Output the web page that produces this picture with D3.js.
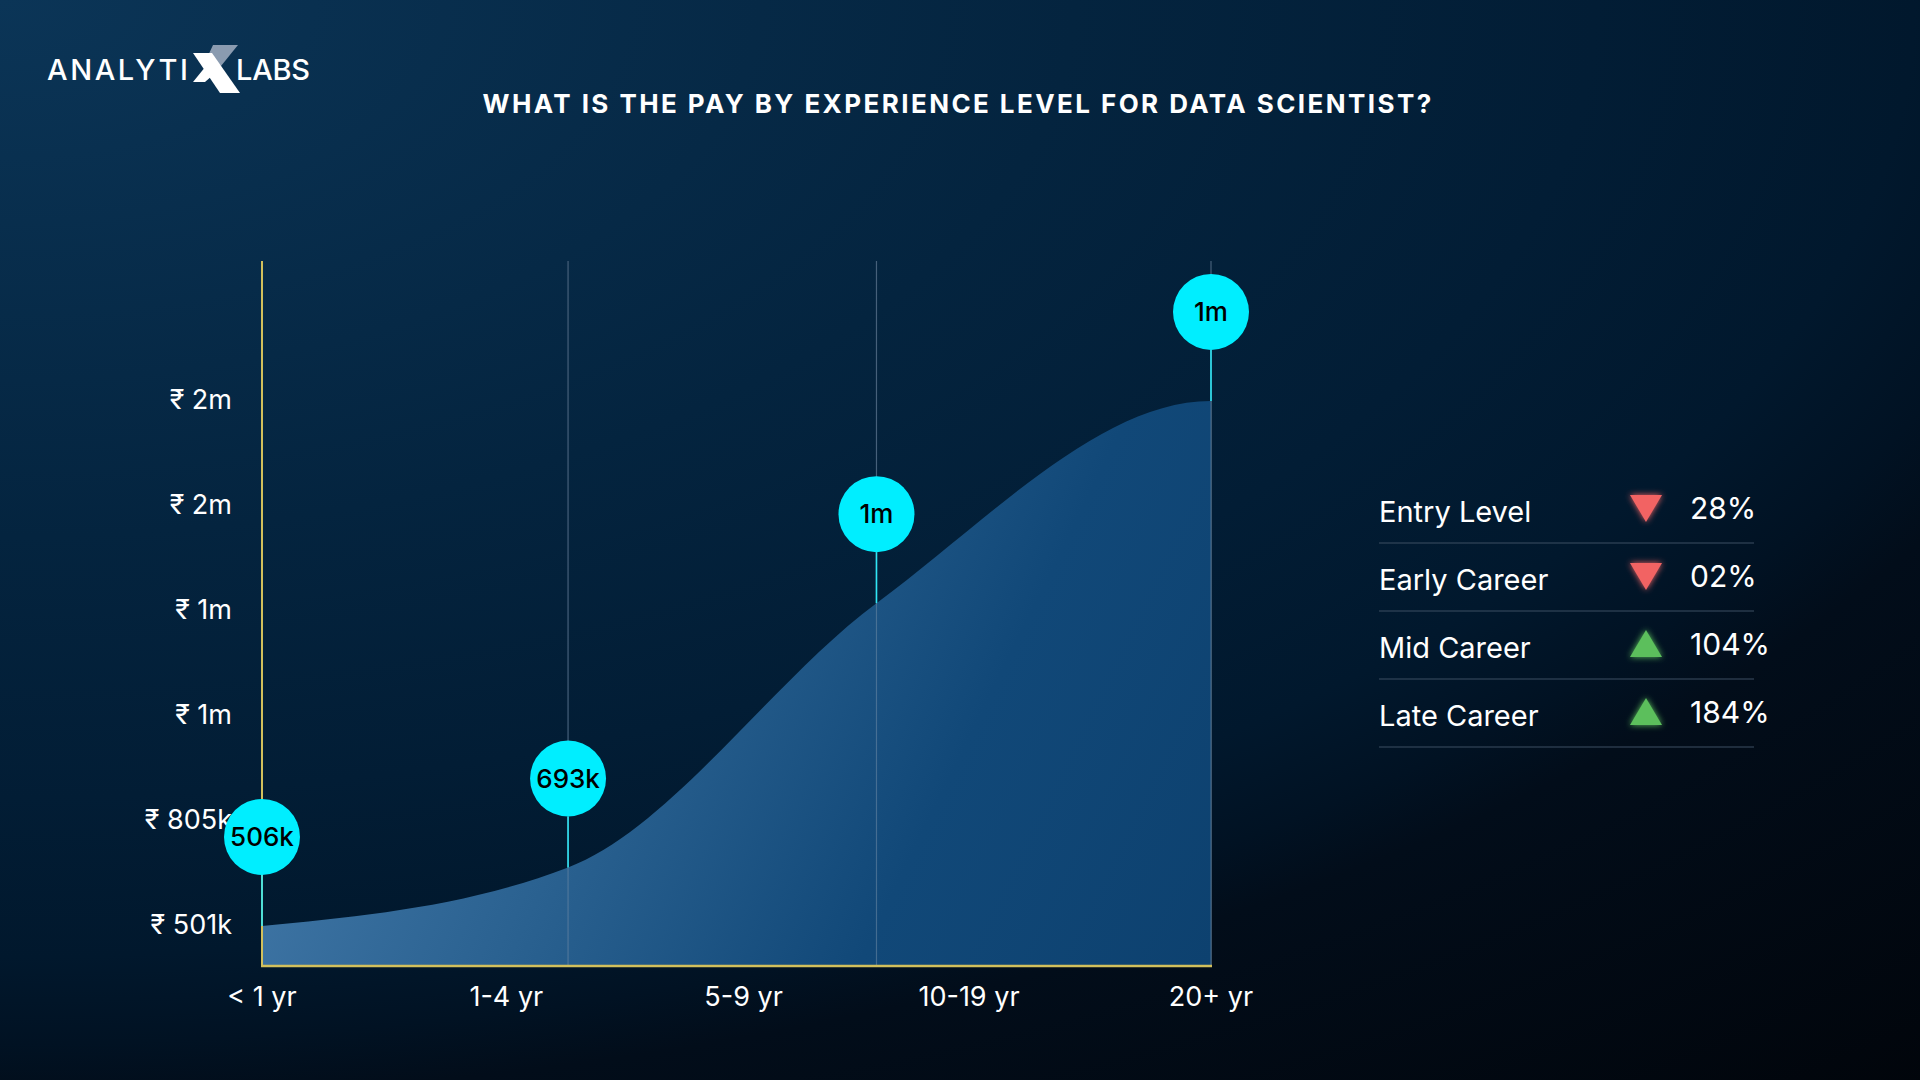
<!DOCTYPE html>
<html>
<head>
<meta charset="utf-8">
<script src="https://cdn.jsdelivr.net/npm/d3@7"></script>
<style>
  html, body { margin: 0; padding: 0; background: #021a30; }
  svg { display: block; }
  text { font-family: Inter, "Open Sans", sans-serif; }
</style>
</head>
<body>
<svg id="chart" width="1920" height="1080"></svg>
<script>
// ---------------- data ----------------
const categories = ["< 1 yr", "1-4 yr", "5-9 yr", "10-19 yr", "20+ yr"];
const categoryPos = [0, 1.03, 2.03, 2.98, 4];
const pointPos = [0, 1.29, 2.59, 4];            // where each plotted point sits on the experience axis
const payValues = [496, 665, 1430, 2015];       // pay in thousands, as plotted
const bubbleLabels = ["506k", "693k", "1m", "1m"];
const yTickValues = [501, 805, 1109, 1413, 1717, 2021];
const yTickLabels = ["₹ 501k", "₹ 805k", "₹ 1m", "₹ 1m", "₹ 2m", "₹ 2m"];
const levels = ["Entry Level", "Early Career", "Mid Career", "Late Career"];
const changes = ["28%", "02%", "104%", "184%"];
const directions = ["down", "down", "up", "up"];
const titleText = "WHAT IS THE PAY BY EXPERIENCE LEVEL FOR DATA SCIENTIST?";

// monotone cubic interpolation that settles flat at the last point
function curveMonotoneFlatEnd(context) {
  return {
    areaStart() { this._line = 0; },
    areaEnd() { this._line = NaN; },
    lineStart() { this._pts = []; },
    point(x, y) { this._pts.push([+x, +y]); },
    lineEnd() {
      const p = this._pts, n = p.length;
      if (n) {
        this._line ? context.lineTo(p[0][0], p[0][1]) : context.moveTo(p[0][0], p[0][1]);
        if (n === 2) context.lineTo(p[1][0], p[1][1]);
        else if (n > 2) {
          const s = [];
          for (let i = 0; i < n - 1; i++) {
            const h = p[i + 1][0] - p[i][0];
            s.push(h ? (p[i + 1][1] - p[i][1]) / h : 0);
          }
          const m = new Array(n).fill(0);
          for (let i = 1; i < n - 1; i++) {
            const h0 = p[i][0] - p[i - 1][0], h1 = p[i + 1][0] - p[i][0];
            const pp = (s[i - 1] * h1 + s[i] * h0) / (h0 + h1);
            m[i] = (Math.sign(s[i - 1]) + Math.sign(s[i])) *
              Math.min(Math.abs(s[i - 1]), Math.abs(s[i]), 0.5 * Math.abs(pp)) || 0;
          }
          m[0] = (3 * s[0] - m[1]) / 2;
          m[n - 1] = 0;
          for (let i = 0; i < n - 1; i++) {
            const dx = (p[i + 1][0] - p[i][0]) / 3;
            context.bezierCurveTo(p[i][0] + dx, p[i][1] + m[i] * dx,
              p[i + 1][0] - dx, p[i + 1][1] - m[i + 1] * dx,
              p[i + 1][0], p[i + 1][1]);
          }
        }
      }
      if (this._line || (this._line !== 0 && n === 1)) context.closePath();
      this._line = 1 - this._line;
    }
  };
}

// ---------------- setup ----------------
const svg = d3.select("#chart");
const defs = svg.append("defs");

const bg = defs.append("radialGradient").attr("id", "bg")
  .attr("gradientUnits", "userSpaceOnUse")
  .attr("cx", 0).attr("cy", 0).attr("r", 2900).attr("fx", 0).attr("fy", 0)
  .attr("gradientTransform", "scale(1,0.5)");
[[0, "#0b3557"], [0.37, "#04243f"], [0.55, "#021d35"], [0.66, "#01182d"],
 [0.72, "#011223"], [0.76, "#020d1a"], [1, "#01050b"]]
  .forEach(([o, c]) => bg.append("stop").attr("offset", o).attr("stop-color", c));

const areaGrad = defs.append("linearGradient").attr("id", "areaGrad")
  .attr("gradientUnits", "userSpaceOnUse")
  .attr("x1", 262).attr("y1", 500).attr("x2", 1211).attr("y2", 966);
areaGrad.append("stop").attr("offset", "0").attr("stop-color", "#4a80b0");
areaGrad.append("stop").attr("offset", "0.4").attr("stop-color", "#2a6190");
areaGrad.append("stop").attr("offset", "0.7").attr("stop-color", "#114878");
areaGrad.append("stop").attr("offset", "1").attr("stop-color", "#0d416f");

const glowR = defs.append("filter").attr("id", "glowR").attr("x", "-60%").attr("y", "-60%").attr("width", "220%").attr("height", "220%");
glowR.append("feGaussianBlur").attr("in", "SourceGraphic").attr("stdDeviation", 3).attr("result", "b");
const mR = glowR.append("feMerge");
mR.append("feMergeNode").attr("in", "b");
mR.append("feMergeNode").attr("in", "SourceGraphic");

svg.append("rect").attr("width", 1920).attr("height", 1080).attr("fill", "url(#bg)");

// ---------------- logo ----------------
const logo = svg.append("g");
logo.append("text").attr("x", 47).attr("y", 80)
  .attr("fill", "#ffffff").attr("font-size", 29).attr("font-weight", 500)
  .attr("textLength", 141).attr("lengthAdjust", "spacing").text("ANALYTI");
logo.append("text").attr("x", 236).attr("y", 80)
  .attr("fill", "#ffffff").attr("font-size", 29).attr("font-weight", 500)
  .attr("textLength", 74).attr("lengthAdjust", "spacing").text("LABS");
// stylised X
logo.append("path").attr("d", "M213,45 L238,45 L221,66 L206,60 Z").attr("fill", "#8a9bb0");
logo.append("path").attr("d", "M193,53 L212,53 L240,93 L220,93 Z").attr("fill", "#ffffff");
logo.append("path").attr("d", "M193,82 L206,66 L213,75 L205,82 Z").attr("fill", "#ffffff");

// ---------------- title ----------------
svg.append("text").attr("x", 958).attr("y", 113)
  .attr("text-anchor", "middle").attr("fill", "#ffffff")
  .attr("font-size", 26).attr("font-weight", 700)
  .attr("letter-spacing", 2.2)
  .attr("textLength", 951).attr("lengthAdjust", "spacing")
  .text(titleText);

// ---------------- scales ----------------
const x = d3.scaleLinear().domain([0, 4]).range([262, 1211]);
const y = d3.scaleLinear().domain([380, 2420]).range([966, 261]);

const points = payValues.map((v, i) => ({ p: pointPos[i], v: v, label: bubbleLabels[i] }));

// ---------------- y tick labels ----------------
svg.append("g").selectAll("text").data(yTickValues).join("text")
  .attr("x", 232).attr("y", d => y(d)).attr("dy", "0.36em")
  .attr("text-anchor", "end").attr("fill", "#ffffff")
  .attr("font-size", 27).attr("font-weight", 400)
  .text((d, i) => yTickLabels[i]);

// ---------------- vertical gridlines (upper part) ----------------
svg.append("g").selectAll("line").data(points.slice(1)).join("line")
  .attr("x1", d => x(d.p)).attr("x2", d => x(d.p))
  .attr("y1", y.range()[1]).attr("y2", y.range()[0])
  .attr("stroke", "#46607a").attr("stroke-width", 1.2);

// ---------------- area ----------------
const area = d3.area()
  .x(d => x(d.p)).y0(y.range()[0]).y1(d => y(d.v))
  .curve(curveMonotoneFlatEnd);
svg.append("path").datum(points).attr("d", area).attr("fill", "url(#areaGrad)");

// gridlines visible through the area
svg.append("g").selectAll("line").data(points.slice(1)).join("line")
  .attr("x1", d => x(d.p)).attr("x2", d => x(d.p))
  .attr("y1", d => y(d.v)).attr("y2", y.range()[0])
  .attr("stroke", "#6d8aa6").attr("stroke-opacity", 0.55).attr("stroke-width", 1.2);

// ---------------- axes ----------------
const axisColor = "#d2c05c";
svg.append("line").attr("x1", x(0)).attr("x2", x(0))
  .attr("y1", y.range()[1]).attr("y2", y.range()[0] + 1)
  .attr("stroke", axisColor).attr("stroke-width", 2);
svg.append("line").attr("x1", x(0) - 1).attr("x2", x(4) + 1)
  .attr("y1", y.range()[0]).attr("y2", y.range()[0])
  .attr("stroke", axisColor).attr("stroke-width", 2.5);

// ---------------- x labels ----------------
svg.append("g").selectAll("text").data(categories).join("text")
  .attr("x", (d, i) => x(categoryPos[i])).attr("y", 1006)
  .attr("text-anchor", "middle").attr("fill", "#ffffff")
  .attr("font-size", 27).attr("font-weight", 400)
  .text(d => d);

// ---------------- bubbles ----------------
const bubbleOffset = 89, bubbleR = 38;
const bubbles = svg.append("g").selectAll("g").data(points).join("g");
bubbles.append("line")
  .attr("x1", d => x(d.p)).attr("x2", d => x(d.p))
  .attr("y1", d => y(d.v) - bubbleOffset + bubbleR).attr("y2", d => y(d.v))
  .attr("stroke", "#2fe6f5").attr("stroke-width", 1.6);
bubbles.append("circle")
  .attr("cx", d => x(d.p)).attr("cy", d => y(d.v) - bubbleOffset)
  .attr("r", bubbleR).attr("fill", "#00eeff");
bubbles.append("text")
  .attr("x", d => x(d.p)).attr("y", d => y(d.v) - bubbleOffset).attr("dy", "0.36em")
  .attr("text-anchor", "middle").attr("fill", "#000000")
  .attr("font-size", 26).attr("font-weight", 500)
  .text(d => d.label);

// ---------------- legend ----------------
const legY = d3.scalePoint().domain(levels).range([512, 716]);
const leg = svg.append("g").selectAll("g").data(levels).join("g");
leg.append("text").attr("x", 1379).attr("y", d => legY(d)).attr("dy", "0.36em")
  .attr("fill", "#ffffff").attr("font-size", 29).attr("font-weight", 400)
  .text(d => d);
leg.append("path")
  .attr("d", (d, i) => directions[i] === "down"
    ? "M-16,-13 L16,-13 L0,14 Z"
    : "M0,-14 L16,13 L-16,13 Z")
  .attr("transform", d => `translate(1646,${legY(d) - 4})`)
  .attr("fill", (d, i) => directions[i] === "down" ? "#f26464" : "#5cbf5c")
  .attr("filter", "url(#glowR)");
leg.append("text").attr("x", 1690).attr("y", d => legY(d) - 4).attr("dy", "0.36em")
  .attr("fill", "#ffffff").attr("font-size", 30).attr("font-weight", 400)
  .text((d, i) => changes[i]);
leg.append("line")
  .attr("x1", 1379).attr("x2", 1754)
  .attr("y1", d => legY(d) + 31).attr("y2", d => legY(d) + 31)
  .attr("stroke", "#3c4e62").attr("stroke-width", 1.2);
</script>
</body>
</html>
